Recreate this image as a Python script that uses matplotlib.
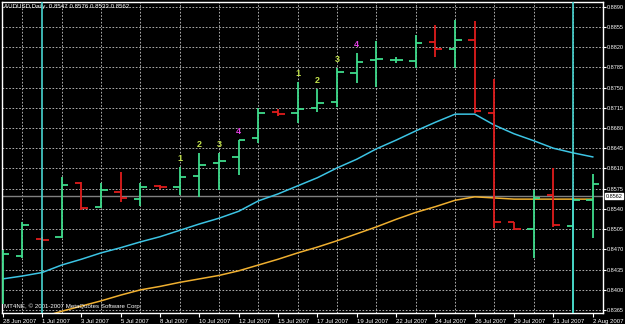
# -*- coding: utf-8 -*-
# AUDUSD Daily - OHLC bars with two moving averages (MetaTrader style)

# %% libraries

import numpy as np
import matplotlib
matplotlib.use('Agg')
import matplotlib.pyplot as plt
import matplotlib.transforms as mtransforms

plt.rcParams['font.family'] = ['Liberation Sans', 'DejaVu Sans']

# %% data

# bar dates, every second one is labelled on the x axis
dates = ['28 Jun 2007', '29 Jun 2007', '1 Jul 2007', '2 Jul 2007', '3 Jul 2007',
         '4 Jul 2007', '5 Jul 2007', '6 Jul 2007', '8 Jul 2007', '9 Jul 2007',
         '10 Jul 2007', '11 Jul 2007', '12 Jul 2007', '13 Jul 2007', '15 Jul 2007',
         '16 Jul 2007', '17 Jul 2007', '18 Jul 2007', '19 Jul 2007', '20 Jul 2007',
         '22 Jul 2007', '23 Jul 2007', '24 Jul 2007', '25 Jul 2007', '26 Jul 2007',
         '27 Jul 2007', '29 Jul 2007', '30 Jul 2007', '31 Jul 2007', '1 Aug 2007',
         '2 Aug 2007']

open_  = [0.8448, 0.8458, 0.8488, 0.8491, 0.8585, 0.8543, 0.8569, 0.8557, 0.8580, 0.8578,
          0.8597, 0.8620, 0.8630, 0.8663, 0.8708, 0.8706, 0.8715, 0.8725, 0.8775, 0.8798,
          0.8797, 0.8796, 0.8829, 0.8817, 0.8832, 0.8706, 0.8517, 0.8505, 0.8564, 0.8510,
          0.8555]
high   = [0.8469, 0.8517, 0.8491, 0.8595, 0.8587, 0.8585, 0.8604, 0.8585, 0.8581, 0.8613,
          0.8637, 0.8637, 0.8659, 0.8715, 0.8713, 0.8760, 0.8748, 0.8784, 0.8810, 0.8831,
          0.8803, 0.8841, 0.8858, 0.8867, 0.8865, 0.8765, 0.8518, 0.8573, 0.8611, 0.8559,
          0.8600]
low    = [0.8375, 0.8455, 0.8474, 0.8489, 0.8538, 0.8541, 0.8552, 0.8545, 0.8574, 0.8564,
          0.8561, 0.8573, 0.8599, 0.8654, 0.8701, 0.8689, 0.8708, 0.8716, 0.8758, 0.8751,
          0.8793, 0.8784, 0.8803, 0.8784, 0.8706, 0.8507, 0.8503, 0.8455, 0.8509, 0.8351,
          0.8489]
close  = [0.8462, 0.8512, 0.8486, 0.8581, 0.8541, 0.8573, 0.8559, 0.8578, 0.8578, 0.8595,
          0.8616, 0.8623, 0.8659, 0.8706, 0.8704, 0.8713, 0.8723, 0.8777, 0.8794, 0.8799,
          0.8798, 0.8827, 0.8817, 0.8832, 0.8709, 0.8517, 0.8505, 0.8559, 0.8512, 0.8555,
          0.8583]

ma_fast = [0.8419, 0.8424, 0.8430, 0.8443, 0.8453, 0.8464, 0.8473, 0.8483, 0.8492, 0.8503,
           0.8514, 0.8524, 0.8536, 0.8554, 0.8566, 0.8580, 0.8594, 0.8611, 0.8626, 0.8644,
           0.8659, 0.8675, 0.8690, 0.8704, 0.8704, 0.8685, 0.8670, 0.8658, 0.8645, 0.8637,
           0.8630]
ma_slow = [0.8339, 0.8346, 0.8353, 0.8363, 0.8372, 0.8381, 0.8391, 0.8400, 0.8406, 0.8413,
           0.8419, 0.8425, 0.8433, 0.8443, 0.8453, 0.8464, 0.8474, 0.8485, 0.8497, 0.8509,
           0.8522, 0.8534, 0.8544, 0.8555, 0.8561, 0.8559, 0.8557, 0.8557, 0.8557, 0.8557,
           0.8557]

# wave counts written above some bars
wave_idx = [9, 10, 11, 12, 15, 16, 17, 18]
wave_txt = ['1', '2', '3', '4', '1', '2', '3', '4']

# vertical marker lines (bar index)
vline_idx = [2, 29]

y_ticks = [0.8890, 0.8855, 0.8820, 0.8785, 0.8750, 0.8715, 0.8680, 0.8645,
           0.8610, 0.8575, 0.8540, 0.8505, 0.8470, 0.8435, 0.8400, 0.8365]

last_price = 0.8562
title_txt = 'AUDUSD,Daily  0.8547 0.8576 0.8533 0.8562'
copy_txt = 'MT4NE, \u00a9 2001-2007 MetaQuotes Software Corp.'

# %% colours

BG        = 'black'
UP_COL    = '#3fdc8c'
DOWN_COL  = '#e01c1c'
FAST_COL  = '#3cc4e4'
SLOW_COL  = '#f0b030'
VLINE_COL = '#48d4d0'
GRID_COL  = '#c8c8c8'
WAVE_COL  = '#c4e44c'
WAVE4_COL = '#e040e0'

# %% figure

fig = plt.figure(figsize=(6.25, 3.24), dpi=100, facecolor=BG)
ax = fig.add_axes([2 / 625, 11 / 324, 601 / 625, 311 / 324], facecolor=BG)

x = np.arange(len(dates))

# grid: one vertical line per bar, horizontal at each price tick
ax.set_xticks(x, minor=True)
ax.grid(True, which='minor', axis='x', color=GRID_COL, linestyle=(0, (2, 2)), linewidth=0.6)
ax.grid(True, which='major', axis='y', color=GRID_COL, linestyle=(0, (2, 2)), linewidth=0.6)
ax.set_axisbelow(True)

# price line
ax.axhline(last_price, color='#808080', linewidth=1.0, zorder=1)

# moving averages
ax.plot(x, ma_fast, color=FAST_COL, linewidth=1.1, zorder=2)
ax.plot(x, ma_slow, color=SLOW_COL, linewidth=1.1, zorder=2)

# OHLC bars
tick_w = 0.33
for i in range(len(x)):
    col = UP_COL if close[i] >= open_[i] else DOWN_COL
    ax.vlines(x[i], low[i], high[i], color=col, linewidth=1.3, zorder=3)
    ax.hlines(open_[i], x[i] - tick_w, x[i], color=col, linewidth=1.3, zorder=3)
    ax.hlines(close[i], x[i], x[i] + tick_w, color=col, linewidth=1.3, zorder=3)

# wave labels above the bars
for i, t in zip(wave_idx, wave_txt):
    col = WAVE4_COL if t == '4' else WAVE_COL
    ax.annotate(t, (x[i], high[i]), xytext=(0, 6), textcoords='offset points',
                ha='center', va='center', fontsize=6.5, fontweight='bold', color=col, zorder=4)

# vertical marker lines
for i in vline_idx:
    ax.axvline(x[i], color=VLINE_COL, linewidth=1.2, zorder=5)

# %% axes

ax.set_xlim(-0.036, 30.52)
ax.set_ylim(0.8360, 0.8898)

ax.set_xticks(x[::2])
ax.set_xticklabels(dates[::2], ha='left')
ax.tick_params(axis='x', which='major', colors='white', labelsize=4.3, length=3,
               width=0.8, pad=1.5)
ax.tick_params(axis='x', which='minor', length=0)

ax.yaxis.tick_right()
ax.set_yticks(y_ticks)
ax.set_yticklabels([f'{v:.4f}' for v in y_ticks])
ax.tick_params(axis='y', colors='white', labelsize=4.0, length=2, width=0.8, pad=1.0)

for s in ax.spines.values():
    s.set_color('white')
    s.set_linewidth(1.0)

# last price box on the right axis
trans = mtransforms.blended_transform_factory(ax.transAxes, ax.transData)
ax.text(1.0045, last_price, f'{last_price:.4f}', transform=trans, ha='left', va='center',
        fontsize=4.0, color='black',
        bbox=dict(boxstyle='square,pad=0.12', facecolor='white', edgecolor='white'))

# texts inside the chart
ax.text(0.004, 0.992, title_txt, transform=ax.transAxes, ha='left', va='top',
        fontsize=4.4, color='white')
ax.text(0.004, 0.012, copy_txt, transform=ax.transAxes, ha='left', va='bottom',
        fontsize=4.4, color='white')

fig.savefig('out.png', dpi=100, facecolor=BG)
